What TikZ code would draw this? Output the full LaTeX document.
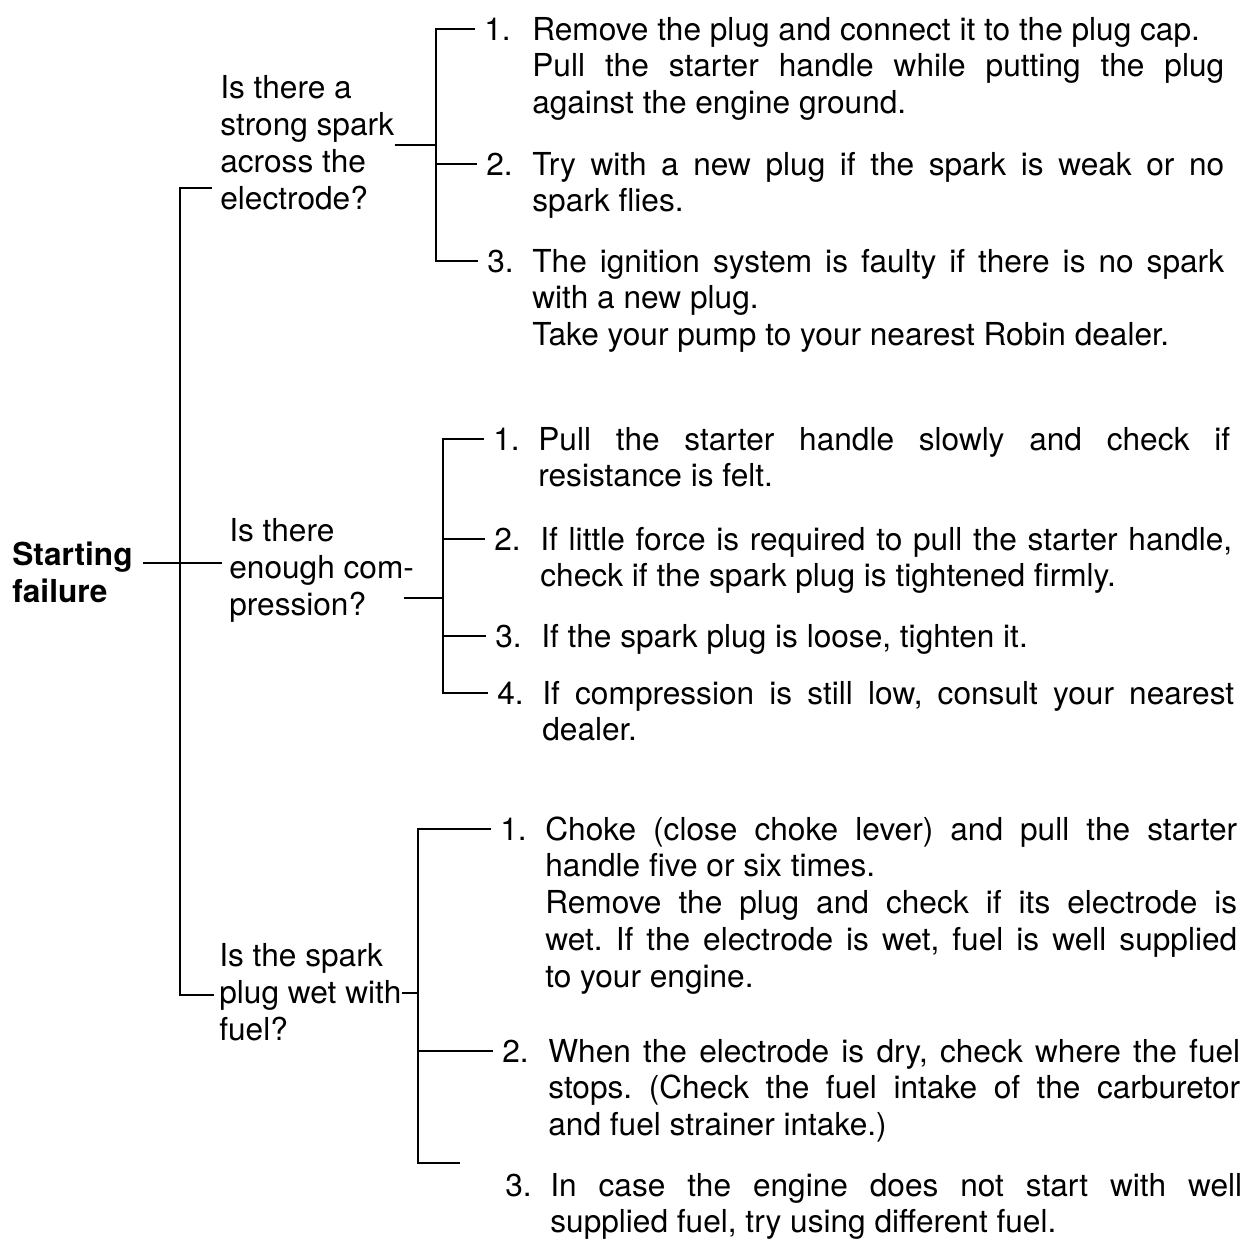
\documentclass[tikz,border=0pt]{standalone}
\usepackage{fontspec}
\setmainfont{TeX Gyre Heros}
\hbadness=10000
\frenchspacing
\begin{document}
\begin{tikzpicture}[x=0.02cm,y=-0.02cm,
  txt/.style={inner sep=0pt, anchor=base west, font=\fontsize{18}{21}\selectfont},
  quest/.style={txt, align=left},
  task/.style={txt, text width=13.84cm, align=justify},
  num/.style={txt},
  tree/.style={line width=1.35pt}]
\useasboundingbox (0,0) rectangle (1258,1241);
% racine et questions (base = derniere ligne)
\node[quest, font=\fontsize{18}{21}\selectfont\bfseries] (root) at (12,602) {Starting\\failure};
\node[quest] (q1) at (220,209) {Is there a\\strong spark\\across the\\electrode?};
\node[quest] (q2) at (229,615) {Is there\\enough com-\\pression?};
\node[quest] (q3) at (219,1040) {Is the spark\\plug wet with\\fuel?};
% tronc
\coordinate (s-top) at (180,188);
\coordinate (s-bot) at (180,995);
\coordinate (j0) at (180,563);
\draw[tree, shorten <=0.16cm, shorten >=0.1cm] (q1.west |- s-top) -| (s-bot) -- (q3.west |- s-bot);
\draw[tree, shorten <=0.2cm, shorten >=0.14cm] (root.east |- j0) -- (q2.west |- j0);
% etincelle
\node[task] (t11) at (532,40) {Remove the plug and connect it to the plug cap.\\Pull the starter handle while putting the plug\linebreak against the engine ground.};
\node[num] (n11) at (484,40) {1.};
\node[task] (t12) at (532,175) {Try with a new plug if the spark is weak or no\linebreak spark flies.};
\node[num] (n12) at (486,175) {2.};
\node[task] (t13) at (532,272) {The ignition system is faulty if there is no spark\linebreak with a new plug.\\Take your pump to your nearest Robin dealer.};
\node[num] (n13) at (487,272) {3.};
\coordinate (j1) at (436,145);
\draw[tree] (q1.east |- j1) -- (j1);
\draw[tree, shorten <=0.18cm, shorten >=0.18cm] (n11.west) -| (j1 |- n13.west) -- (n13.west);
\draw[tree, shorten >=0.18cm] (j1 |- n12.west) -- (n12.west);
% compression
\node[task] (t21) at (538,450) {Pull the starter handle slowly and check if\linebreak resistance is felt.};
\node[num] (n21) at (493,450) {1.};
\node[task] (t22) at (540,550) {If little force is required to pull the starter handle,\linebreak check if the spark plug is tightened firmly.};
\node[num] (n22) at (494,550) {2.};
\node[task] (t23) at (541,647) {If the spark plug is loose, tighten it.};
\node[num] (n23) at (495,647) {3.};
\node[task] (t24) at (542,704) {If compression is still low, consult your nearest\linebreak dealer.};
\node[num] (n24) at (497,704) {4.};
\coordinate (j2) at (443,598);
\draw[tree] ([xshift=-0.2cm]q2.east |- j2) -- (j2);
\draw[tree, shorten <=0.18cm, shorten >=0.18cm] (n21.west) -| (j2 |- n24.west) -- (n24.west);
\draw[tree, shorten >=0.18cm] (j2 |- n22.west) -- (n22.west);
\draw[tree, shorten >=0.18cm] (j2 |- n23.west) -- (n23.west);
% carburant
\node[task] (t31) at (545,840) {Choke (close choke lever) and pull the starter\linebreak handle five or six times.\\Remove the plug and check if its electrode is\linebreak wet. If the electrode is wet, fuel is well supplied\linebreak to your engine.};
\node[num] (n31) at (500,840) {1.};
\node[task] (t32) at (548,1062) {When the electrode is dry, check where the fuel\linebreak stops. (Check the fuel intake of the carburetor\linebreak and fuel strainer intake.)};
\node[num] (n32) at (502,1062) {2.};
\node[task] (t33) at (550,1196) {In case the engine does not start with well\linebreak supplied fuel, try using different fuel.};
\node[num] (n33) at (505,1196) {3.};
\coordinate (j3) at (418,993);
\draw[tree] (q3.east |- j3) -- (j3);
\draw[tree, shorten <=0.18cm] (n31.west) -| ([yshift=0.2cm]j3 |- n33.north) -- ([xshift=-0.9cm, yshift=0.2cm]n33.north west);
\draw[tree, shorten >=0.18cm] (j3 |- n32.west) -- (n32.west);
\end{tikzpicture}
\end{document}
